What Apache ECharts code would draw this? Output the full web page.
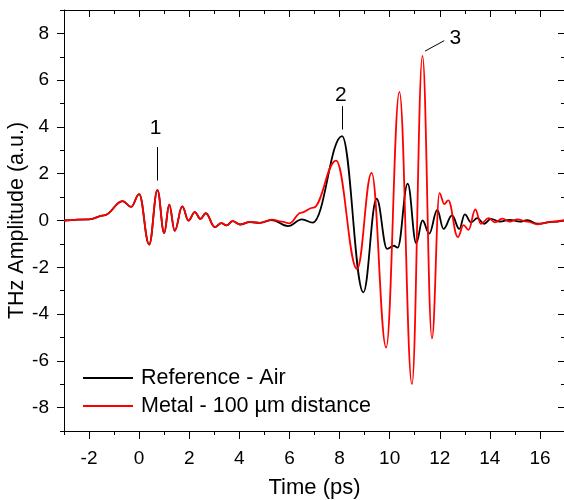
<!DOCTYPE html>
<html>
<head>
<meta charset="utf-8">
<script src="https://cdn.jsdelivr.net/npm/echarts@6/dist/echarts.min.js"></script>
<style>
html,body{margin:0;padding:0;background:#fff}
#main{width:564px;height:500px}
</style>
</head>
<body>
<div id="main"></div>
<script>
// waveform extrema (time in ps, amplitude in a.u.)
var refTime = [-3.0, -2.0, -1.4, -0.66, -0.32, 0.0, 0.4, 0.73, 1.0, 1.2, 1.42, 1.72, 1.97, 2.22, 2.45, 2.66, 3.02, 3.28, 3.49, 3.73, 4.02, 4.42, 4.82, 5.3, 5.94, 6.5, 6.93,
  8.1, 8.95, 9.48, 9.9, 10.17, 10.32, 10.72, 11.06, 11.31, 11.58, 11.9, 12.15, 12.49, 12.78, 13.0, 13.25, 13.5, 13.77, 14.04, 14.4, 14.8, 15.2, 15.5, 15.9, 16.5, 17.0];
var refAmp = [0.0, 0.05, 0.22, 0.83, 0.58, 1.13, -1.03, 1.3, -0.54, 0.68, -0.44, 0.6, 0.0, 0.36, 0.07, 0.31, -0.28, -0.11, -0.21, -0.03, -0.17, -0.07, -0.1, 0.02, -0.24, 0.05, -0.09,
  3.61, -3.07, 0.93, -1.21, -1.08, -1.16, 1.58, -0.97, 0.0, -0.56, 0.45, -0.36, 0.22, -0.36, 0.26, -0.08, 0.1, -0.14, 0.07, -0.05, 0.03, -0.05, 0.02, -0.14, -0.06, 0.0];

var metalTime = [-3.0, -2.0, -1.4, -0.66, -0.32, 0.0, 0.4, 0.73, 1.0, 1.2, 1.42, 1.72, 1.97, 2.22, 2.45, 2.66, 3.02, 3.28, 3.49, 3.73, 4.02, 4.42, 4.82, 5.3, 5.7, 6.0, 6.45, 6.95,
  7.86, 8.7, 9.28, 9.86, 10.39, 10.89, 11.31, 11.69, 11.99, 12.18, 12.34, 12.72, 12.95, 13.15, 13.42, 13.64, 13.95, 14.2, 14.5, 14.8, 15.1, 15.5, 15.9, 16.5, 17.0];
var metalAmp = [0.0, 0.05, 0.22, 0.83, 0.58, 1.13, -1.03, 1.3, -0.54, 0.68, -0.44, 0.6, 0.0, 0.36, 0.07, 0.31, -0.28, -0.11, -0.21, -0.03, -0.17, -0.06, -0.1, 0.04, -0.05, -0.12, 0.33, 0.55,
  2.56, -2.07, 2.04, -5.43, 5.5, -7.0, 7.04, -5.04, 1.17, 0.7, 0.86, -0.71, -0.2, -0.4, 0.47, -0.14, 0.1, -0.08, 0.08, -0.05, 0.05, -0.05, -0.16, -0.05, 0.02];

var xMajor = [-2, 0, 2, 4, 6, 8, 10, 12, 14, 16];
var xMinor = [-3, -1, 1, 3, 5, 7, 9, 11, 13, 15, 17];
var yMajor = [-8, -6, -4, -2, 0, 2, 4, 6, 8];
var yMinor = [-9, -7, -5, -3, -1, 1, 3, 5, 7, 9];

var peakNames = ['1', '2', '3'];
var peakTextAt = [[0.66, 3.93], [8.05, 5.37], [12.62, 7.79]];
var peakLineFrom = [[0.73, 3.14], [8.1, 4.89], [11.41, 7.24]];
var peakLineTo = [[0.73, 1.71], [8.1, 3.89], [12.18, 7.69]];

var font = 'Liberation Sans';

function zip(t, a) {
  return t.map(function (v, i) { return [v, a[i]]; });
}

function xAx(pos, ticks, len, inside, main) {
  return {
    type: 'value', position: pos, min: -3, max: 17, interval: 1,
    axisLine: { show: main, onZero: false, lineStyle: { color: '#000', width: 1 } },
    axisTick: { show: true, inside: inside, length: len, customValues: ticks, lineStyle: { color: '#000' } },
    axisLabel: { show: main && pos === 'bottom', customValues: xMajor, color: '#000', fontSize: 19, fontFamily: font, margin: 18 },
    splitLine: { show: false },
    name: main && pos === 'bottom' ? 'Time (ps)' : '',
    nameLocation: 'middle', nameGap: 46, nameMoveOverlap: false,
    nameTextStyle: { color: '#000', fontSize: 22, fontFamily: font }
  };
}

function yAx(pos, ticks, len, inside, main) {
  return {
    type: 'value', position: pos, min: -9, max: 9, interval: 1,
    axisLine: { show: main, onZero: false, lineStyle: { color: '#000', width: 1 } },
    axisTick: { show: true, inside: inside, length: len, customValues: ticks, lineStyle: { color: '#000' } },
    axisLabel: { show: main && pos === 'left', customValues: yMajor, color: '#000', fontSize: 19, fontFamily: font, margin: 15 },
    splitLine: { show: false },
    name: main && pos === 'left' ? 'THz Amplitude (a.u.)' : '',
    nameLocation: 'middle', nameGap: 36, nameRotate: 90, nameMoveOverlap: false,
    nameTextStyle: { color: '#000', fontSize: 21.5, fontFamily: font }
  };
}

var chart = echarts.init(document.getElementById('main'));

var option = {
  animation: false,
  backgroundColor: '#fff',
  grid: { left: 64, top: 10, width: 501, height: 421, outerBoundsMode: 'none', containLabel: false },
  legend: {
    orient: 'vertical', left: 78, top: 362, itemWidth: 50, itemHeight: 2, itemGap: 6,
    icon: 'rect',
    textStyle: { color: '#000', fontSize: 21.5, fontFamily: font, lineHeight: 22, padding: [0, 0, 0, 3] },
    data: ['Reference - Air', 'Metal - 100 µm distance']
  },
  xAxis: [
    xAx('bottom', xMajor, 8, false, true),
    xAx('bottom', xMinor, 4, false, false),
    xAx('top', xMajor, 7, true, true),
    xAx('top', xMinor, 4, true, false)
  ],
  yAxis: [
    yAx('left', yMajor, 7, false, true),
    yAx('left', yMinor, 4, false, false),
    yAx('right', yMajor, 7, true, true),
    yAx('right', yMinor, 4, true, false)
  ],
  series: [
    {
      name: 'Reference - Air', type: 'line', data: zip(refTime, refAmp),
      showSymbol: false, smooth: 0.4, smoothMonotone: 'x',
      color: '#000', lineStyle: { color: '#000', width: 1.8 },
      markLine: {
        silent: true, symbol: ['none', 'none'],
        label: { show: false },
        lineStyle: { color: '#000', width: 1, type: 'solid' },
        data: peakLineFrom.map(function (p, i) {
          return [{ coord: p }, { coord: peakLineTo[i] }];
        })
      },
      markPoint: {
        silent: true, symbol: 'circle', symbolSize: 0,
        label: { show: true, position: 'inside', formatter: '{b}', color: '#000', fontSize: 21, fontFamily: font },
        data: peakTextAt.map(function (p, i) {
          return { name: peakNames[i], coord: p };
        })
      }
    },
    {
      name: 'Metal - 100 µm distance', type: 'line', data: zip(metalTime, metalAmp),
      showSymbol: false, smooth: 0.4, smoothMonotone: 'x',
      color: '#ff0000', lineStyle: { color: '#ff0000', width: 1.8 }
    }
  ]
};

chart.setOption(option);
</script>
</body>
</html>
